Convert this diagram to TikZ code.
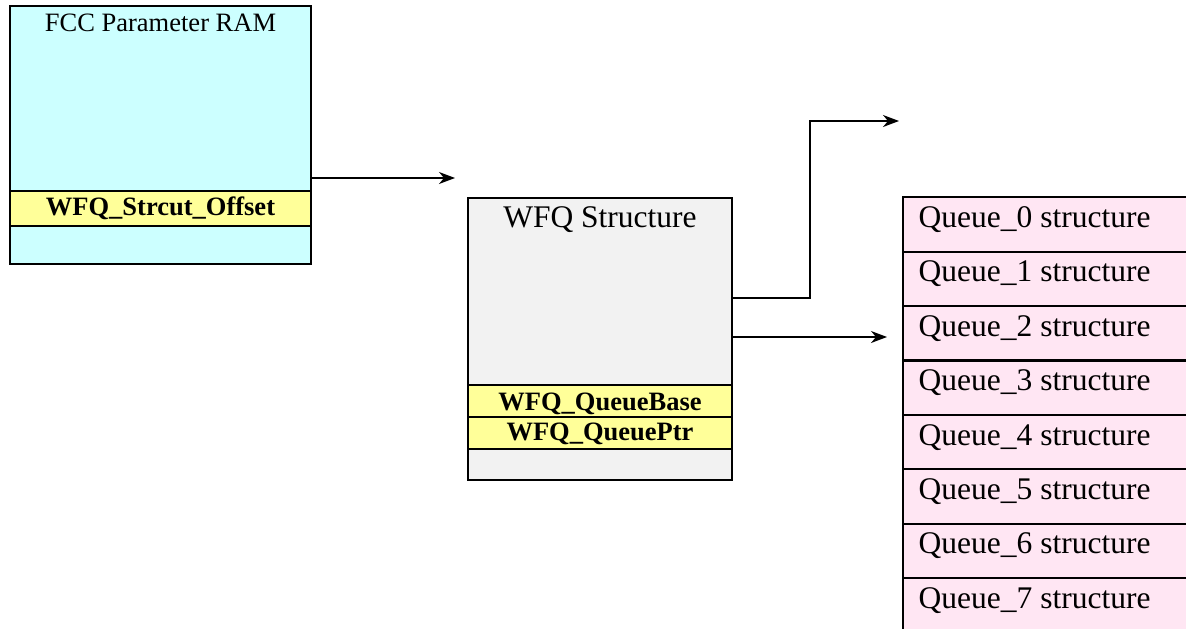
\documentclass[tikz,border=0pt]{standalone}
\usepackage{fontspec}
\setmainfont{Liberation Serif}
\usetikzlibrary{arrows.meta}
\definecolor{ramcyan}{RGB}{204,255,255}
\definecolor{fieldyellow}{RGB}{255,255,153}
\definecolor{wfqgrey}{RGB}{242,242,242}
\definecolor{queuepink}{RGB}{255,230,243}
\tikzset{
  boxframe/.style={draw=black, line width=2.2pt, outer sep=0pt, inner sep=0pt, anchor=north west},
  lbl/.style={inner sep=0pt, outer sep=0pt, anchor=base},
  qlbl/.style={inner sep=0pt, outer sep=0pt, anchor=base west, font=\fontsize{31.5}{36}\selectfont},
  smallfont/.style={font=\fontsize{26.5}{30}\selectfont},
  bigfont/.style={font=\fontsize{31.5}{36}\selectfont},
  boldfont/.style={font=\fontsize{26.5}{30}\selectfont\bfseries},
  arr/.style={line width=1.5pt, -{Stealth[length=16pt, width=12pt, inset=5pt]}}
}
\begin{document}
\begin{tikzpicture}[x=1pt,y=-1pt]
\clip (0,0) rectangle (1186,629);
\fill[white] (0,0) rectangle (1186,629);
% FCC Parameter RAM
\node[boxframe, fill=ramcyan, minimum width=301pt, minimum height=258pt] (ram) at (10,6) {};
\node[boxframe, fill=fieldyellow, minimum width=301pt, minimum height=35pt] (offset) at (10,191) {};
\node[lbl, smallfont] (ramtitle) at (160.5,31) {FCC Parameter RAM};
\node[lbl, boldfont] (offsettxt) at (160.5,215) {WFQ\_Strcut\_Offset};
% WFQ Structure
\node[boxframe, fill=wfqgrey, minimum width=264pt, minimum height=282pt] (wfq) at (468,198) {};
\node[boxframe, fill=fieldyellow, minimum width=264pt, minimum height=32pt] (qbase) at (468,385) {};
\node[boxframe, fill=fieldyellow, minimum width=264pt, minimum height=32pt] (qptr) at (468,417) {};
\node[lbl, bigfont] (wfqtitle) at (600,227.7) {WFQ Structure};
\node[lbl, boldfont] (qbasetxt) at (600,410) {WFQ\_QueueBase};
\node[lbl, boldfont] (qptrtxt) at (600,440.7) {WFQ\_QueuePtr};
% Queue structures
\foreach \i in {0,...,7}{
  \node[boxframe, fill=queuepink, minimum width=300pt, minimum height=54.4pt] (q\i) at (903,197.3+54.4*\i) {};
  \node[qlbl] (q\i txt) at (918.7,227.5+54.4*\i) {Queue\_\i{} structure};
}
% connectors
\coordinate (t0) at (455,178);
\draw[arr] (ram.east |- t0) -- (t0);
\coordinate (bend) at (810,298);
\coordinate (t1) at (899,121);
\draw[arr] (wfq.east |- bend) -- (bend) |- (t1);
\coordinate (t2) at (887,337);
\draw[arr] (wfq.east |- t2) -- (t2);
\end{tikzpicture}
\end{document}
